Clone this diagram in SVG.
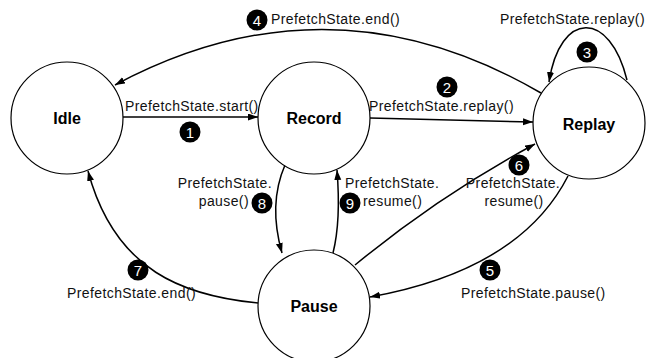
<svg xmlns="http://www.w3.org/2000/svg" width="646" height="358" viewBox="0 0 646 358">
<defs>
<marker id="ah" markerUnits="userSpaceOnUse" markerWidth="12" markerHeight="10" refX="10" refY="3.5" orient="auto">
<path d="M0,0 L10,3.5 L0,7 z" fill="#000"/>
</marker>
<style>
.node{fill:#fff;stroke:#000;stroke-width:1.2}
.nl{font-family:"Liberation Sans",Arial,sans-serif;font-weight:bold;font-size:16px;text-anchor:middle;fill:#000}
.e{fill:none;stroke:#000;stroke-width:1.5;marker-end:url(#ah)}
.lb{font-family:"Liberation Sans",Arial,sans-serif;font-size:14px;letter-spacing:0.4px;fill:#111}
.bc{fill:#000}
.bt{font-family:"Liberation Sans",Arial,sans-serif;font-size:15px;fill:#fff;text-anchor:middle}
</style>
</defs>
<rect width="646" height="358" fill="#fff"/>
<g id="connectors">
<path class="e" d="M123,117 L258,117"/>
<path class="e" d="M370,118 L533,122"/>
<path class="e" d="M627,80 C610,10 560,10 549,82"/>
<path class="e" d="M541,93 Q330,-30 115,85"/>
<path class="e" d="M568,176 Q520,270 370,297"/>
<path class="e" d="M355,265 Q440,195 535,144"/>
<path class="e" d="M258,303 C185,296 115,272 88,171"/>
<path class="e" d="M285,165 C272,195 274,225 282,253"/>
<path class="e" d="M333,253 C340,225 339,195 337,170"/>
</g>
<g id="node-idle"><circle class="node" cx="67" cy="118" r="56"/><text class="nl" x="67" y="124">Idle</text></g>
<g id="node-record"><circle class="node" cx="314" cy="118" r="56"/><text class="nl" x="314" y="124">Record</text></g>
<g id="node-replay"><circle class="node" cx="589" cy="123" r="56"/><text class="nl" x="589" y="130">Replay</text></g>
<g id="node-pause"><circle class="node" cx="314" cy="306" r="56"/><text class="nl" x="314" y="312">Pause</text></g>
<g id="labels">
<text class="lb" x="125" y="111">PrefetchState.start()</text>
<circle class="bc" cx="190" cy="132" r="10.5"/><text class="bt" x="190" y="137.5">1</text>
<text class="lb" x="369" y="111">PrefetchState.replay()</text>
<circle class="bc" cx="447" cy="87" r="10.5"/><text class="bt" x="447" y="92.5">2</text>
<text class="lb" x="500" y="24">PrefetchState.replay()</text>
<circle class="bc" cx="587" cy="52" r="10.5"/><text class="bt" x="587" y="57.5">3</text>
<circle class="bc" cx="257" cy="20" r="10.5"/><text class="bt" x="257" y="25.5">4</text>
<text class="lb" x="271" y="24">PrefetchState.end()</text>
<circle class="bc" cx="490" cy="270" r="10.5"/><text class="bt" x="490" y="275.5">5</text>
<text class="lb" x="461" y="298">PrefetchState.pause()</text>
<circle class="bc" cx="519" cy="165" r="10.5"/><text class="bt" x="519" y="170.5">6</text>
<text class="lb" x="513" y="188" text-anchor="middle">PrefetchState.</text>
<text class="lb" x="514" y="206" text-anchor="middle">resume()</text>
<circle class="bc" cx="138" cy="270" r="10.5"/><text class="bt" x="138" y="275.5">7</text>
<text class="lb" x="67" y="298">PrefetchState.end()</text>
<text class="lb" x="272" y="188" text-anchor="end">PrefetchState.</text>
<text class="lb" x="249" y="206" text-anchor="end">pause()</text>
<circle class="bc" cx="262" cy="203" r="10.5"/><text class="bt" x="262" y="208.5">8</text>
<text class="lb" x="345" y="188">PrefetchState.</text>
<circle class="bc" cx="350" cy="203" r="10.5"/><text class="bt" x="350" y="208.5">9</text>
<text class="lb" x="363" y="206">resume()</text>
</g>
</svg>
